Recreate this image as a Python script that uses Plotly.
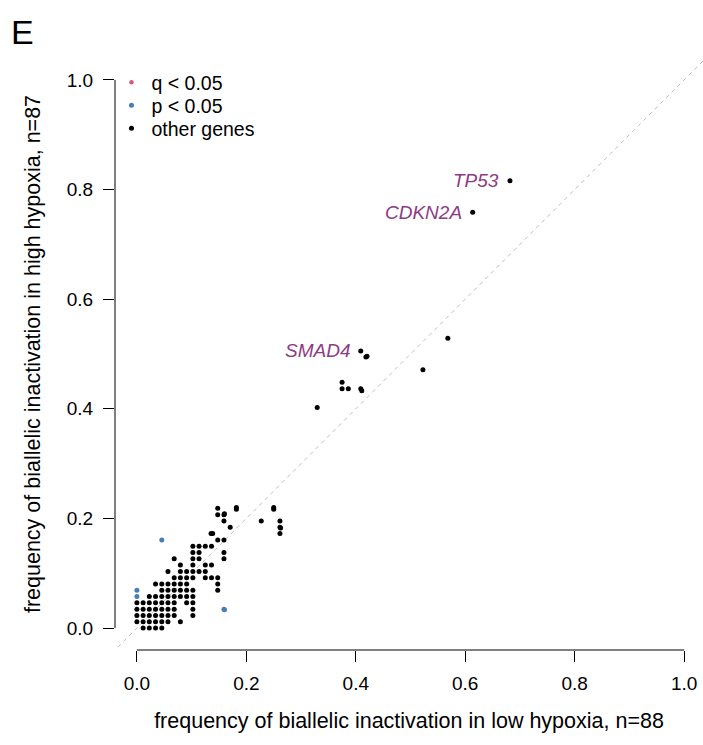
import plotly.graph_objects as go

FONT = "Liberation Sans, Arial, Helvetica, sans-serif"

# frequencies of biallelic inactivation (low hypoxia n=88 on x, high hypoxia n=87 on y)
other_low = [
    0.0114, 0.0227, 0.0341, 0.0455,
    0.0, 0.0114, 0.0227, 0.0341, 0.0455, 0.0568, 0.0795,
    0.0, 0.0114, 0.0227, 0.0341, 0.0455, 0.0568, 0.0682, 0.1023,
    0.0, 0.0114, 0.0227, 0.0341, 0.0455, 0.0568, 0.0682, 0.1023,
    0.0, 0.0114, 0.0227, 0.0341, 0.0455, 0.0568, 0.0682, 0.0909, 0.1023,
    0.0227, 0.0341, 0.0455, 0.0568, 0.0682, 0.0795, 0.0909, 0.1023,
    0.0455, 0.0568, 0.0682, 0.0795, 0.0909, 0.1023, 0.1477,
    0.0341, 0.0455, 0.0568, 0.0682, 0.0795, 0.0909, 0.1477,
    0.0682, 0.0795, 0.0909, 0.1023, 0.125, 0.1364, 0.1477,
    0.0568, 0.0795, 0.0909, 0.1023, 0.1136, 0.125,
    0.0795, 0.1023, 0.125, 0.1364,
    0.0682, 0.1023, 0.1136, 0.1591,
    0.1023, 0.1136, 0.1591,
    0.1023, 0.1136, 0.125, 0.1364,
    0.1477, 0.1591,
    0.1355, 0.1385, 0.2614,
    0.1705, 0.2614, 0.2625,
    0.1591, 0.2273, 0.2614,
    0.1477, 0.1591, 0.1600,
    0.1477, 0.1818, 0.1818, 0.25, 0.25,
    0.3295, 0.375, 0.375, 0.3864, 0.4091, 0.4110, 0.4091, 0.4185, 0.4205,
    0.5227, 0.5682, 0.6136, 0.6818,
]
other_high = [
    0.0, 0.0, 0.0, 0.0,
    0.0115, 0.0115, 0.0115, 0.0115, 0.0115, 0.0115, 0.0115,
    0.023, 0.023, 0.023, 0.023, 0.023, 0.023, 0.023, 0.023,
    0.0345, 0.0345, 0.0345, 0.0345, 0.0345, 0.0345, 0.0345, 0.0345,
    0.046, 0.046, 0.046, 0.046, 0.046, 0.046, 0.046, 0.046, 0.046,
    0.0575, 0.0575, 0.0575, 0.0575, 0.0575, 0.0575, 0.0575, 0.0575,
    0.069, 0.069, 0.069, 0.069, 0.069, 0.069, 0.069,
    0.0805, 0.0805, 0.0805, 0.0805, 0.0805, 0.0805, 0.0805,
    0.092, 0.092, 0.092, 0.092, 0.092, 0.092, 0.092,
    0.1034, 0.1034, 0.1034, 0.1034, 0.1034, 0.1034,
    0.1149, 0.1149, 0.1149, 0.1149,
    0.1264, 0.1264, 0.1264, 0.1264,
    0.1379, 0.1379, 0.1379,
    0.1494, 0.1494, 0.1494, 0.1494,
    0.1609, 0.1609,
    0.1724, 0.1724, 0.1724,
    0.1839, 0.1839, 0.1825,
    0.1954, 0.1954, 0.1954,
    0.2069, 0.2069, 0.2085,
    0.2184, 0.2170, 0.2200, 0.2170, 0.2200,
    0.4023, 0.4483, 0.4368, 0.4368, 0.4368, 0.4330, 0.5057, 0.4943, 0.4960,
    0.4713, 0.5287, 0.7586, 0.8161,
]
p_low = [0.0, 0.0, 0.0455, 0.1591, 0.1600]
p_high = [0.0575, 0.069, 0.1609, 0.0345, 0.0335]
q_low = []
q_high = []

label_genes = ["TP53", "CDKN2A", "SMAD4"]
label_low = [0.6818, 0.6136, 0.4091]
label_high = [0.8161, 0.7586, 0.5057]

tick_vals = [0.0, 0.2, 0.4, 0.6, 0.8, 1.0]
tick_text = ["0.0", "0.2", "0.4", "0.6", "0.8", "1.0"]

legend_names = ["q < 0.05", "p < 0.05", "other genes"]
colors = ["#CD5C78", "#4A7EB4", "#000000"]
label_color = "#8E3A84"

fig = go.Figure()
fig.add_trace(go.Scatter(x=q_low if q_low else [None], y=q_high if q_high else [None],
                         mode="markers", name=legend_names[0], legend="legend",
                         marker=dict(color=colors[0], size=4.5)))
fig.add_trace(go.Scatter(x=p_low, y=p_high, mode="markers", name=legend_names[1], legend="legend2",
                         marker=dict(color=colors[1], size=5)))
fig.add_trace(go.Scatter(x=other_low, y=other_high, mode="markers", name=legend_names[2], legend="legend3",
                         marker=dict(color=colors[2], size=5)))

for g, xl, yh in zip(label_genes, label_low, label_high):
    fig.add_annotation(x=xl, y=yh, xref="x", yref="y", text=g, showarrow=False,
                       xanchor="right", yanchor="middle", xshift=-9,
                       font=dict(family=FONT, size=19, color=label_color, style="italic"))

fig.add_annotation(x=-0.158, y=1.044, xref="paper", yref="paper", text="E",
                   showarrow=False, xanchor="center", yanchor="middle",
                   font=dict(family=FONT, size=34, color="black"))

# y = x reference line
fig.add_shape(type="line", xref="x", yref="y", x0=-0.2, y0=-0.2, x1=1.2, y1=1.2,
              line=dict(color="#BEBEBE", width=1, dash="4px,4px"), layer="below")
# axis lines spanning first to last tick
fig.add_shape(type="line", xref="x", yref="paper", x0=tick_vals[0], x1=tick_vals[-1], y0=0, y1=0,
              line=dict(color="black", width=1))
fig.add_shape(type="line", xref="paper", yref="y", x0=0, x1=0, y0=tick_vals[0], y1=tick_vals[-1],
              line=dict(color="black", width=1))

axis_common = dict(tickvals=tick_vals, ticktext=tick_text, ticks="outside", ticklen=11,
                   tickwidth=1, tickcolor="black", showgrid=False, zeroline=False,
                   showline=False, tickfont=dict(family=FONT, size=19, color="black"))

fig.update_xaxes(range=[-0.04, 1.0345], ticklabelstandoff=5,
                 title=dict(text="frequency of biallelic inactivation in low hypoxia, n=88",
                            font=dict(family=FONT, size=21.5, color="black"), standoff=20),
                 **axis_common)
fig.update_yaxes(range=[-0.04, 1.04], ticklabelstandoff=6,
                 title=dict(text="frequency of biallelic inactivation in high hypoxia, n=87",
                            font=dict(family=FONT, size=21.5, color="black"), standoff=20),
                 **axis_common)

leg_common = dict(x=-0.006, xanchor="left", yanchor="top", bgcolor="rgba(0,0,0,0)",
                  font=dict(family=FONT, size=19.5, color="black"), itemsizing="trace")

fig.update_layout(
    width=703, height=745,
    margin=dict(l=115, r=0, t=58, b=95),
    plot_bgcolor="white", paper_bgcolor="white",
    font=dict(family=FONT, color="black"),
    showlegend=True,
    legend=dict(y=0.9916, **leg_common),
    legend2=dict(y=0.9527, **leg_common),
    legend3=dict(y=0.9139, **leg_common),
)

fig.write_html("out.html")
